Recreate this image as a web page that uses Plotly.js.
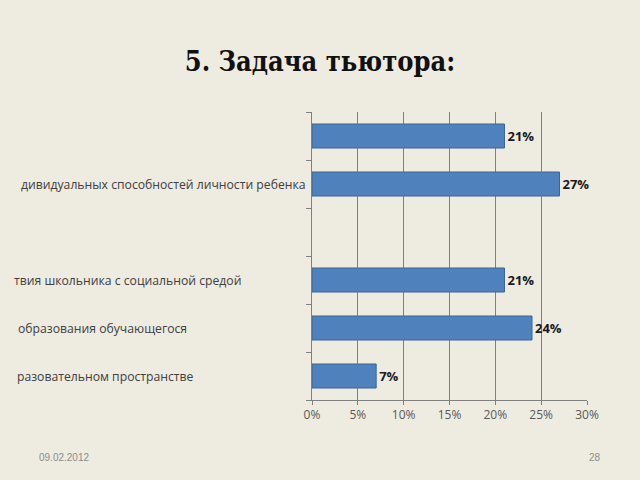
<!DOCTYPE html>
<html><head><meta charset="utf-8">
<script src="https://cdn.plot.ly/plotly-3.0.1.min.js"></script>
<style>html,body{margin:0;padding:0;background:#EEEBE1;}#chart{width:640px;height:480px;}</style>
</head><body><div id="chart"></div>
<script>
const positions = [1, 2, 3, 4, 5, 6];
const values = [21, 27, null, 21, 24, 7];
const valueLabels = ["21%", "27%", "", "21%", "24%", "7%"];
const categoryLabels = ["", "дивидуальных способностей личности ребенка", "", "твия школьника с социальной средой", "образования обучающегося", "разовательном пространстве"];
const labelEnds = [0, 308, 0, 243, 189, 196];
const xTicks = [0, 5, 10, 15, 20, 25, 30];
const titleText = "5. Задача тьютора:";
const footerDate = "09.02.2012";
const footerPage = "28";

const L = 312, R = 53, W = 640 - L - R;
const annotations = [];
categoryLabels.forEach((t, i) => {
  if (!t) return;
  annotations.push({text: t, xref: 'paper', yref: 'y', x: (labelEnds[i] - L) / W, y: positions[i],
    xanchor: 'right', yanchor: 'middle', showarrow: false,
    font: {family: 'Open Sans', size: 12.2, color: '#404040'}});
});
annotations.push({text: footerDate, xref: 'paper', yref: 'paper', x: (37 - L) / W, y: -(457 - 400) / 288,
  xanchor: 'left', yanchor: 'middle', showarrow: false, font: {family: 'Liberation Sans', size: 10, color: '#8C8C8C'}});
annotations.push({text: footerPage, xref: 'paper', yref: 'paper', x: (603 - L) / W, y: -(457 - 400) / 288,
  xanchor: 'right', yanchor: 'middle', showarrow: false, font: {family: 'Liberation Sans', size: 10, color: '#8C8C8C'}});

Plotly.newPlot('chart', [{
  type: 'bar', orientation: 'h', x: values, y: positions, width: 0.5,
  text: valueLabels, textposition: 'outside', cliponaxis: false,
  textfont: {family: 'Open Sans', size: 13, color: '#1a1a1a', weight: 'bold'},
  marker: {color: '#4F81BD', line: {color: '#3A6595', width: 1}},
  hoverinfo: 'skip'
}], {
  width: 640, height: 480,
  paper_bgcolor: '#EEEBE1', plot_bgcolor: 'rgba(0,0,0,0)',
  margin: {l: L, r: R, t: 112, b: 80},
  showlegend: false,
  title: {text: titleText, x: 0.5, xref: 'container', xanchor: 'center', y: 1 - 62/480, yref: 'container', yanchor: 'middle',
    font: {family: 'DejaVu Serif Condensed', size: 27, color: '#111', weight: 'bold'}},
  xaxis: {range: [0, 30], tickvals: xTicks, ticktext: xTicks.map(v => v + '%'),
    showgrid: true, gridcolor: '#7F7F7F', gridwidth: 1, zeroline: false,
    showline: true, linecolor: '#7F7F7F', ticks: 'outside', ticklen: 4, tickcolor: '#7F7F7F',
    tickfont: {family: 'Open Sans', size: 12, color: '#595959'}, fixedrange: true},
  yaxis: {range: [6.5, 0.5], tickvals: [0.5, 1.5, 2.5, 3.5, 4.5, 5.5, 6.5], showticklabels: false,
    showgrid: false, zeroline: false, showline: true, linecolor: '#7F7F7F',
    ticks: 'outside', ticklen: 5, tickcolor: '#7F7F7F', fixedrange: true},
  annotations: annotations
}, {staticPlot: true});
</script></body></html>
